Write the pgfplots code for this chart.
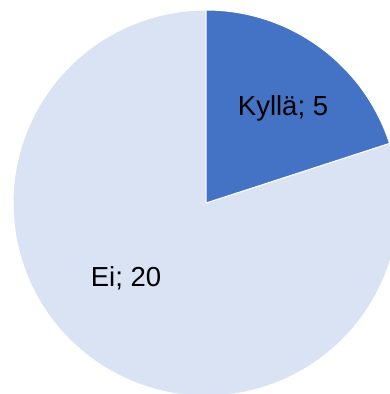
\documentclass[border=0pt]{standalone}
\usepackage{pgfplots}
\pgfplotsset{compat=1.18}
\usepackage{pgfplotstable}
\usepackage{fontspec}
\setmainfont{Liberation Sans}
\definecolor{kylla}{HTML}{4472C4}
\definecolor{ei}{HTML}{DAE3F3}
\pgfplotstableread{
label value
Kyllä 5
Ei 20
}\piedata
\begin{document}
\begin{tikzpicture}
\pgfplotstablegetelem{0}{value}\of\piedata \let\va\pgfplotsretval
\pgfplotstablegetelem{1}{value}\of\piedata \let\vb\pgfplotsretval
\pgfmathsetmacro\angA{90-360*\va/(\va+\vb)}
\pgfmathsetmacro\R{193}
\begin{axis}[
  hide axis, x=1pt, y=1pt,
  xmin=-206, xmax=184, ymin=-191, ymax=203,
  clip=true,
]
\fill[ei, draw=white, line width=1pt] (axis cs:0,0) -- (axis cs:{\R*cos(\angA)},{\R*sin(\angA)}) arc[start angle=\angA, end angle=-270, radius=\R pt] -- cycle;
\fill[kylla, draw=white, line width=1pt] (axis cs:0,0) -- (axis cs:0,\R) arc[start angle=90, end angle=\angA, radius=\R pt] -- cycle;
\node[font=\fontsize{27.5}{31}\selectfont, inner sep=0pt] at (axis cs:77,95) {Kyllä; \va};
\node[font=\fontsize{27.5}{31}\selectfont, inner sep=0pt] at (axis cs:-80,-75) {Ei; \vb};
\end{axis}
\pgfresetboundingbox
\useasboundingbox (current axis.south west) rectangle (current axis.north east);
\end{tikzpicture}
\end{document}
